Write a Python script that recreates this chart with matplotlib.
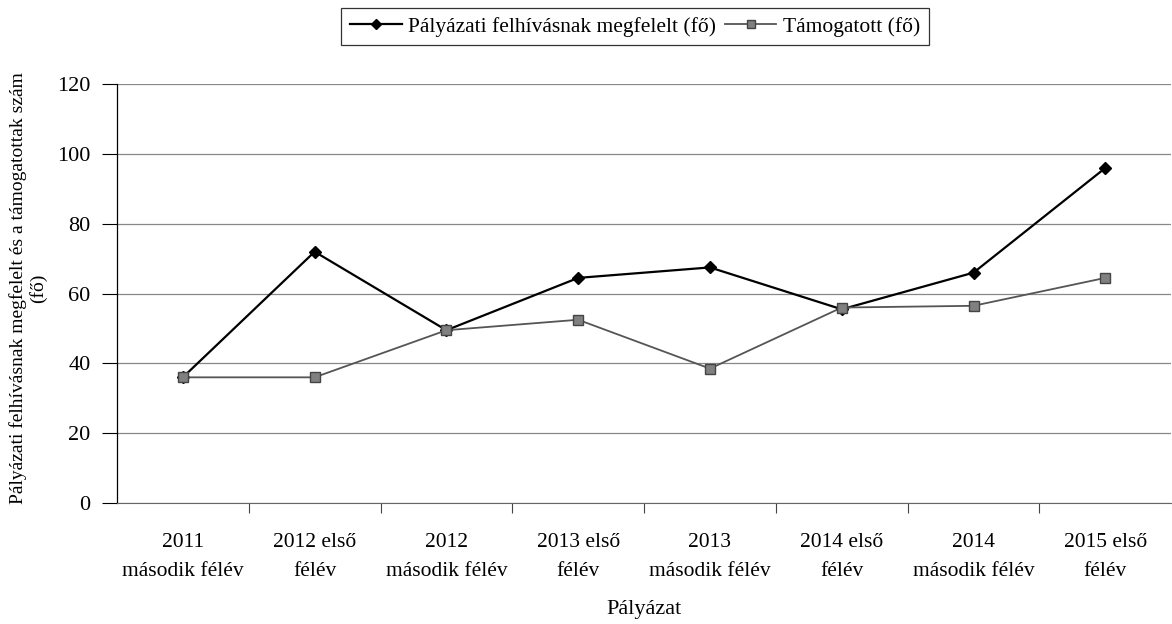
import numpy as np
import matplotlib.pyplot as plt

plt.rcParams['font.family'] = ['Liberation Serif', 'DejaVu Serif']

categories = ['2011\nmásodik félév', '2012 első\nfélév', '2012\nmásodik félév',
              '2013 első\nfélév', '2013\nmásodik félév', '2014 első\nfélév',
              '2014\nmásodik félév', '2015 első\nfélév']
megfelelt = [36, 72, 49.5, 64.5, 67.5, 55.5, 66, 96]
tamogatott = [36, 36, 49.5, 52.5, 38.5, 56, 56.5, 64.5]

fig = plt.figure(figsize=(11.72, 6.24), dpi=100)
ax = fig.add_axes([0.0998, 0.194, 0.8995, 0.671])

x = np.arange(len(categories))
ax.plot(x, megfelelt, color='black', lw=1.6, marker='D', ms=6,
        mfc='black', mec='black', label='Pályázati felhívásnak megfelelt (fő)', zorder=3)
ax.plot(x, tamogatott, color='#555555', lw=1.3, marker='s', ms=6.5,
        mfc='#808080', mec='#444444', label='Támogatott (fő)', zorder=3)

ax.set_xlim(-0.5, len(categories) - 0.5)
ax.set_ylim(0, 120)
ax.set_yticks(range(0, 121, 20))
ax.yaxis.grid(True, color='#888888', lw=0.9)
ax.set_axisbelow(True)
for s in ['top', 'right']:
    ax.spines[s].set_visible(False)
ax.spines['left'].set_linewidth(0.9)
ax.spines['bottom'].set_color('#666666')

ax.set_xticks(x)
ax.set_xticklabels(categories, fontsize=15.5, linespacing=1.65)
ax.tick_params(axis='x', length=0, pad=22)
ax.set_xticks(np.arange(1, len(categories)) - 0.5, minor=True)
ax.tick_params(axis='x', which='minor', length=7, width=0.8, color='#444444')
ax.tick_params(axis='y', labelsize=16, length=11, width=0.8, pad=8)

ax.set_xlabel('Pályázat', fontsize=16, labelpad=14)
fig.text(0.024, 0.538, 'Pályázati felhívásnak megfelelt és a támogatottak szám\n(fő)',
         rotation=90, ha='center', va='center', fontsize=14, linespacing=1.1,
         multialignment='center')

leg = fig.legend(loc='upper center', bbox_to_anchor=(0.5418, 0.987), ncol=2,
                 fontsize=15.5, frameon=True, fancybox=False, edgecolor='black',
                 handlelength=2.4, handletextpad=0.3, columnspacing=0.4,
                 borderpad=0.4, borderaxespad=0, markerscale=0.9)
leg.get_frame().set_linewidth(0.9)

fig.savefig('out.png', dpi=100)
